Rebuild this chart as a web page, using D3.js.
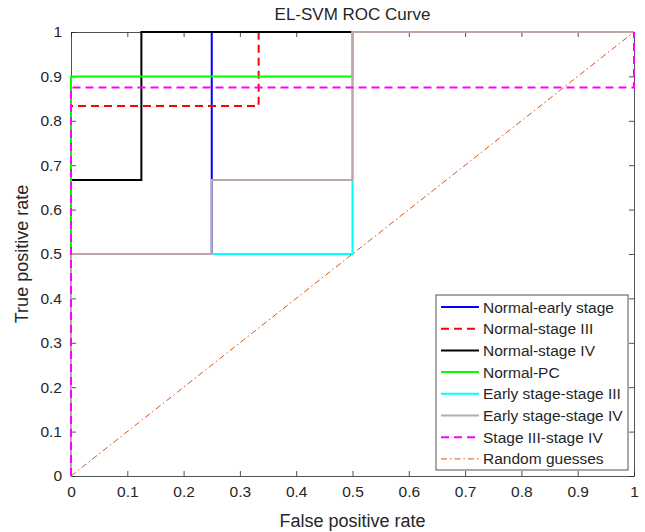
<!DOCTYPE html>
<html>
<head>
<meta charset="utf-8">
<script src="https://cdn.jsdelivr.net/npm/d3@7"></script>
<style>
  body { margin: 0; background: #fff; }
  svg text { font-family: "Liberation Sans", Arial, sans-serif; fill: #262626; }
</style>
</head>
<body>
<div id="chart"></div>
<script>
// ROC curves, one array of [fpr, tpr] points per comparison
const seriesNames = ["Normal-early stage", "Normal-stage III", "Normal-stage IV", "Normal-PC",
  "Early stage-stage III", "Early stage-stage IV", "Stage III-stage IV", "Random guesses"];
const normalEarly = [[0, 0], [0, 0.5], [0.25, 0.5], [0.25, 1], [1, 1]];
const normalStage3 = [[0, 0], [0, 0.8333], [0.3333, 0.8333], [0.3333, 1], [1, 1]];
const normalStage4 = [[0, 0], [0, 0.6667], [0.125, 0.6667], [0.125, 1], [1, 1]];
const normalPC = [[0, 0], [0, 0.9], [0.5, 0.9], [0.5, 1], [1, 1]];
const early3 = [[0, 0], [0, 0.5], [0.5, 0.5], [0.5, 1], [1, 1]];
const early4 = [[0, 0], [0, 0.5], [0.25, 0.5], [0.25, 0.6667], [0.5, 0.6667], [0.5, 1], [1, 1]];
const stage3to4 = [[0, 0], [0, 0.875], [1, 0.875], [1, 1]];
const randomGuess = [[0, 0], [1, 1]];
const ticks = [0, 0.1, 0.2, 0.3, 0.4, 0.5, 0.6, 0.7, 0.8, 0.9, 1];

const allSeries = [normalEarly, normalStage3, normalStage4, normalPC, early3, early4, stage3to4, randomGuess];
const styles = [
  { color: "#0000ff", w: 2, dash: null },
  { color: "#ff0000", w: 2, dash: "8,5" },
  { color: "#000000", w: 2, dash: null },
  { color: "#00ff00", w: 2, dash: null },
  { color: "#00ffff", w: 2, dash: null },
  { color: "#bca9a6", w: 2, dash: null },
  { color: "#ff00ff", w: 2, dash: "8,5" },
  { color: "#d95319", w: 1, dash: "6,3,1.5,3" }
];

const W = 645, H = 532;
const margin = { top: 32, right: 11, bottom: 56, left: 71 };
const width = W - margin.left - margin.right;
const height = H - margin.top - margin.bottom;

const svg = d3.select("#chart").append("svg")
  .attr("width", W).attr("height", H);

const g = svg.append("g")
  .attr("transform", "translate(" + margin.left + "," + margin.top + ")");

const x = d3.scaleLinear().domain([0, 1]).range([0, width]);
const y = d3.scaleLinear().domain([0, 1]).range([height, 0]);
const fmt = d => d === 0 || d === 1 ? String(d) : d3.format(".1f")(d);

// axes with inward ticks, box on all sides
g.append("g").attr("transform", "translate(0," + height + ")")
  .call(d3.axisBottom(x).tickValues(ticks).tickFormat(fmt).tickSizeInner(-5).tickSizeOuter(0).tickPadding(10));
g.append("g")
  .call(d3.axisLeft(y).tickValues(ticks).tickFormat(fmt).tickSizeInner(-5).tickSizeOuter(0).tickPadding(9));
g.append("g")
  .call(d3.axisTop(x).tickValues(ticks).tickFormat("").tickSizeInner(-5).tickSizeOuter(0));
g.append("g").attr("transform", "translate(" + width + ",0)")
  .call(d3.axisRight(y).tickValues(ticks).tickFormat("").tickSizeInner(-5).tickSizeOuter(0));
g.selectAll(".domain").attr("stroke", "#262626").attr("stroke-width", 0.8);
g.selectAll(".tick line").attr("stroke", "#262626").attr("stroke-width", 0.8);
g.selectAll(".tick text").attr("font-size", 15.5).attr("fill", "#262626")
  .style("font-family", "'Liberation Sans', Arial, sans-serif");

const line = d3.line().x(d => x(d[0])).y(d => y(d[1]));

allSeries.forEach((s, i) => {
  g.append("path")
    .datum(s)
    .attr("d", line)
    .attr("fill", "none")
    .attr("stroke", styles[i].color)
    .attr("stroke-width", styles[i].w)
    .attr("stroke-dasharray", styles[i].dash);
});

// title and labels
svg.append("text").attr("x", margin.left + width / 2).attr("y", 20)
  .attr("text-anchor", "middle").attr("font-size", 17).text("EL-SVM ROC Curve");
svg.append("text").attr("x", margin.left + width / 2).attr("y", 527)
  .attr("text-anchor", "middle").attr("font-size", 18).text("False positive rate");
svg.append("text").attr("transform", "translate(28," + (margin.top + height / 2) + ") rotate(-90)")
  .attr("text-anchor", "middle").attr("font-size", 18).text("True positive rate");

// legend
const lg = svg.append("g").attr("transform", "translate(436,295)");
lg.append("rect").attr("width", 192).attr("height", 175)
  .attr("fill", "#fff").attr("stroke", "#262626").attr("stroke-width", 0.8);
seriesNames.forEach((name, i) => {
  const ly = 12 + i * 21.7;
  lg.append("line").attr("x1", 5).attr("x2", 43).attr("y1", ly).attr("y2", ly)
    .attr("stroke", styles[i].color).attr("stroke-width", styles[i].w)
    .attr("stroke-dasharray", styles[i].dash);
  lg.append("text").attr("x", 47).attr("y", ly + 5.5).attr("font-size", 15.5).text(name);
});
</script>
</body>
</html>
